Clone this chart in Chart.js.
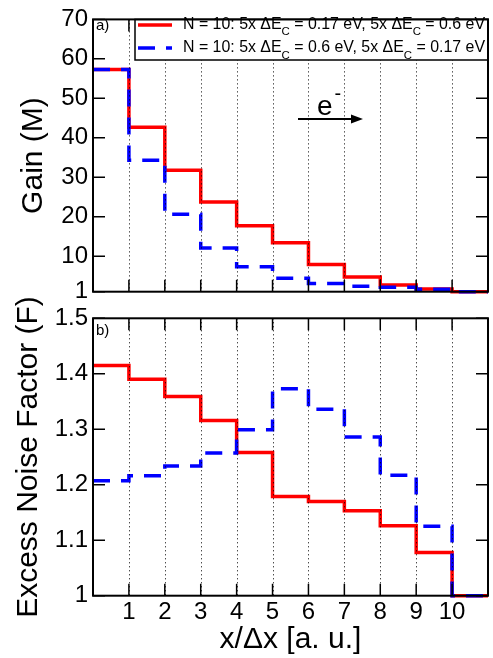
<!DOCTYPE html>
<html>
<head>
<meta charset="utf-8">
<script src="https://cdn.jsdelivr.net/npm/chart.js@4.4.1/dist/chart.umd.min.js"></script>
<style>
  html, body { margin: 0; padding: 0; background: #fff; }
  #wrap { position: relative; width: 493px; height: 658px; overflow: hidden; }
  canvas { position: absolute; left: 0; }
  #gain  { top: 0; }
  #noise { top: 290px; }
</style>
</head>
<body>
<div id="wrap">
  <canvas id="gain" width="493" height="320"></canvas>
  <canvas id="noise" width="493" height="368"></canvas>
</div>
<script>
// ── Data ────────────────────────────────────────────────────────────────────
// step edges along x/Δx; each value holds from edge i to edge i+1
const xEdges     = [0, 1, 2, 3, 4, 5, 6, 7, 8, 9, 10, 11];
const xTicks     = [1, 2, 3, 4, 5, 6, 7, 8, 9, 10];
const gainTicks  = [1, 10, 20, 30, 40, 50, 60, 70];
const noiseTicks = [1, 1.1, 1.2, 1.3, 1.4, 1.5];

const gainRed   = [57.3, 42.7, 31.8, 23.7, 17.7, 13.4, 7.9, 4.7, 2.7, 1.7, 1.0];
const gainBlue  = [57.3, 34.3, 20.6, 12.1, 7.3, 4.4, 3.1, 2.4, 2.1, 1.6, 1.0];
const noiseRed  = [1.415, 1.390, 1.359, 1.316, 1.258, 1.179, 1.170, 1.153, 1.126, 1.078, 1.0];
const noiseBlue = [1.207, 1.216, 1.234, 1.257, 1.299, 1.373, 1.336, 1.286, 1.217, 1.125, 1.0];

// legend rows: alternating normal / subscript pieces
const legendRed  = ['N = 10: 5x ΔE', 'C', ' = 0.17 eV, 5x ΔE', 'C', ' = 0.6 eV'];
const legendBlue = ['N = 10: 5x ΔE', 'C', ' = 0.6 eV, 5x ΔE', 'C', ' = 0.17 eV'];

// ── Style ───────────────────────────────────────────────────────────────────
const FONT = '"Liberation Sans", Arial, Helvetica, sans-serif';
const RED  = '#ff0000';
const BLUE = '#0000ff';
const DASH = [17, 11];

Chart.defaults.font.family = FONT;
Chart.defaults.color = '#000';

const toSteps = vals => xEdges.map((x, i) => ({ x, y: vals[Math.min(i, vals.length - 1)] }));

function stepSets(red, blue) {
  return [
    { label: 'red',  data: toSteps(red),  borderColor: RED,  borderWidth: 3.5, stepped: 'before',
      pointRadius: 0, fill: false, order: 2, clip: 4 },
    { label: 'blue', data: toSteps(blue), borderColor: BLUE, borderWidth: 3.5, stepped: 'before',
      borderDash: DASH, pointRadius: 0, fill: false, order: 1, clip: 4 },
  ];
}

// ── Frame / ticks / dotted grid, drawn on top of the lines ─────────────────
function framePlugin(yTicks, extra) {
  return {
    id: 'matlabFrame',
    afterDatasetsDraw(chart) {
      const { ctx, chartArea: a, scales: { x, y } } = chart;
      ctx.save();
      ctx.strokeStyle = '#000';

      ctx.lineWidth = 1;
      ctx.setLineDash([1, 3]);
      xTicks.forEach(v => {
        const px = Math.round(x.getPixelForValue(v)) + 0.5;
        ctx.beginPath(); ctx.moveTo(px, a.top); ctx.lineTo(px, a.bottom); ctx.stroke();
      });
      ctx.setLineDash([]);

      ctx.lineWidth = 1.5;
      const TL = 12;
      xTicks.forEach(v => {
        const px = x.getPixelForValue(v);
        ctx.beginPath();
        ctx.moveTo(px, a.bottom); ctx.lineTo(px, a.bottom - TL);
        ctx.moveTo(px, a.top);    ctx.lineTo(px, a.top + TL);
        ctx.stroke();
      });
      yTicks.forEach(v => {
        const py = y.getPixelForValue(v);
        ctx.beginPath();
        ctx.moveTo(a.left, py);  ctx.lineTo(a.left + TL, py);
        ctx.moveTo(a.right, py); ctx.lineTo(a.right - TL, py);
        ctx.stroke();
      });

      if (extra) extra(ctx, a);

      ctx.lineWidth = 2;
      ctx.strokeRect(a.left, a.top, a.right - a.left, a.bottom - a.top);
      ctx.restore();
    }
  };
}

function drawRich(ctx, parts, x, y, size, subSize, width) {
  ctx.save();
  let w = 0;
  parts.forEach((p, i) => {
    ctx.font = (i % 2 ? subSize : size) + 'px ' + FONT;
    w += ctx.measureText(p).width;
  });
  ctx.translate(x, y);
  ctx.scale(width / w, 1);
  let cx = 0;
  ctx.fillStyle = '#000';
  ctx.textBaseline = 'alphabetic';
  ctx.textAlign = 'left';
  parts.forEach((p, i) => {
    ctx.font = (i % 2 ? subSize : size) + 'px ' + FONT;
    ctx.fillText(p, cx, i % 2 ? 6.5 : 0);
    cx += ctx.measureText(p).width;
  });
  ctx.restore();
}

function gainExtras(ctx, a) {
  ctx.fillStyle = '#000';
  ctx.font = '15px ' + FONT;
  ctx.textAlign = 'left';
  ctx.textBaseline = 'alphabetic';
  ctx.fillText('a)', 96, 30);

  // legend
  ctx.fillStyle = '#fff';
  ctx.fillRect(135, a.top, a.right - 135, 60 - a.top);
  ctx.lineWidth = 1.5;
  ctx.strokeStyle = '#000';
  ctx.strokeRect(135, a.top, a.right - 135, 60 - a.top);

  ctx.lineWidth = 3.5;
  ctx.strokeStyle = RED;
  ctx.beginPath(); ctx.moveTo(138, 25); ctx.lineTo(172, 25); ctx.stroke();
  ctx.strokeStyle = BLUE;
  ctx.setLineDash(DASH);
  ctx.beginPath(); ctx.moveTo(138, 48); ctx.lineTo(172, 48); ctx.stroke();
  ctx.setLineDash([]);

  drawRich(ctx, legendRed,  183, 28.5, 16, 11.5, 302);
  drawRich(ctx, legendBlue, 183, 52,   16, 11.5, 302);

  // electron direction arrow
  ctx.strokeStyle = '#000';
  ctx.fillStyle = '#000';
  ctx.lineWidth = 2;
  ctx.beginPath(); ctx.moveTo(298, 119); ctx.lineTo(354, 119); ctx.stroke();
  ctx.beginPath(); ctx.moveTo(363, 119); ctx.lineTo(351, 114.5); ctx.lineTo(351, 123.5); ctx.closePath(); ctx.fill();
  ctx.font = '28px ' + FONT;
  ctx.fillText('e', 317, 115);
  ctx.font = '20px ' + FONT;
  ctx.fillText('-', 334.5, 100);
}

function noiseExtras(ctx) {
  ctx.fillStyle = '#000';
  ctx.font = '15px ' + FONT;
  ctx.textAlign = 'left';
  ctx.textBaseline = 'alphabetic';
  ctx.fillText('b)', 96, 45);
}

function baseOptions(yMin, yMax, yTicks, yTitle, yTitlePad, fmt) {
  return {
    responsive: false,
    animation: false,
    devicePixelRatio: 1,
    plugins: { legend: { display: false }, tooltip: { enabled: false } },
    scales: {
      x: {
        type: 'linear', min: 0, max: 11,
        afterBuildTicks: s => { s.ticks = xTicks.map(v => ({ value: v })); },
        grid: { display: false, drawTicks: false }, border: { display: false },
      },
      y: {
        type: 'linear', min: yMin, max: yMax,
        afterBuildTicks: s => { s.ticks = yTicks.map(v => ({ value: v })); },
        afterFit: s => { s.width = 93; },
        grid: { display: false, drawTicks: false }, border: { display: false },
        ticks: { font: { size: 24 }, padding: 5, callback: fmt },
        title: { display: true, text: yTitle, font: { size: 30 }, padding: { top: yTitlePad, bottom: 0 } },
      },
    },
  };
}

// ── Panel a) Gain ───────────────────────────────────────────────────────────
const gainOpts = baseOptions(1, 70, gainTicks, 'Gain (M)', 16, v => String(v));
gainOpts.layout = { padding: { left: 0, right: 5, top: 15, bottom: 28.3 } };
gainOpts.scales.x.display = false;

new Chart(document.getElementById('gain'), {
  type: 'line',
  data: { datasets: stepSets(gainRed, gainBlue) },
  options: gainOpts,
  plugins: [framePlugin(gainTicks, gainExtras)],
});

// ── Panel b) Excess noise factor ────────────────────────────────────────────
const noiseOpts = baseOptions(1, 1.5, noiseTicks, 'Excess Noise Factor (F)', 11, v => String(v));
noiseOpts.layout = { padding: { left: 0, right: 5, top: 28.3, bottom: 0 } };
Object.assign(noiseOpts.scales.x, {
  afterFit: s => { s.height = 62.3; },
  ticks: { font: { size: 24 }, padding: 2, maxRotation: 0, callback: v => String(v) },
  title: { display: true, text: 'x/Δx [a. u.]', font: { size: 30 }, padding: { top: 0, bottom: 0 } },
});

new Chart(document.getElementById('noise'), {
  type: 'line',
  data: { datasets: stepSets(noiseRed, noiseBlue) },
  options: noiseOpts,
  plugins: [framePlugin(noiseTicks, noiseExtras)],
});
</script>
</body>
</html>
